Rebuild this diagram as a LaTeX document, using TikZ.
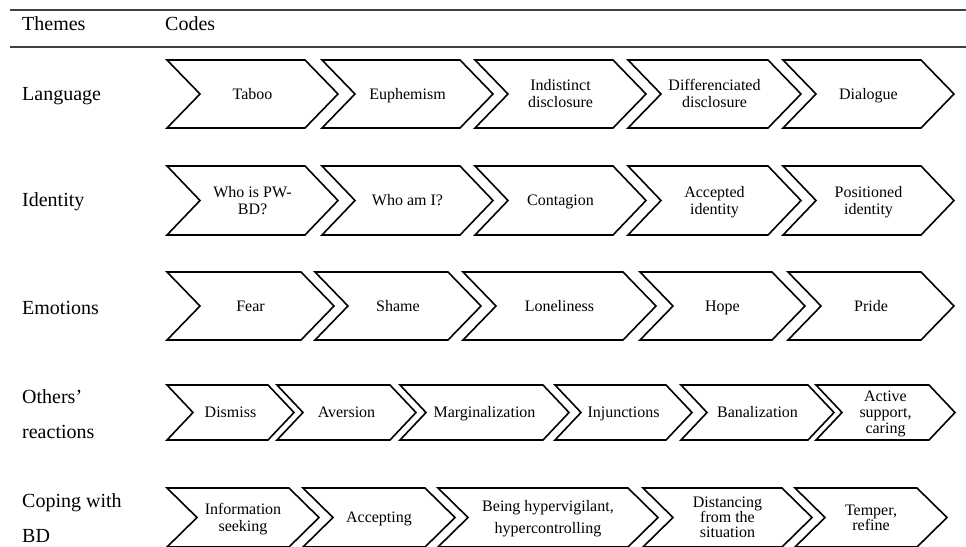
\documentclass[tikz,border=0pt]{standalone}
\usepackage{fontspec}
\setmainfont{Liberation Serif}
\tikzset{
  chevline/.style={draw=black, line width=1.6pt, line join=miter, fill=white},
  codetext/.style={font=\fontsize{16}{17}\selectfont, align=center, inner sep=0pt, text=black},
  themetext/.style={font=\fontsize{20}{35}\selectfont, align=left, anchor=west, inner sep=0pt, text=black},
  rulestyle/.style={draw=black!75, line width=1.1pt}
}
% #1 name, #2 left x, #3 right x (top corner), #4 top y, #5 bottom y, #6 depth, #7 text
\newcommand\mychev[7]{%
  \draw[chevline] (#2,#4) -- (#3,#4) -- ({#3+#6},{(#4+#5)/2}) -- (#3,#5) -- (#2,#5) -- ({#2+#6},{(#4+#5)/2}) -- cycle;
  \node[codetext] (#1) at ({(#2+#3+#6)/2},{(#4+#5)/2+2}) {\strut#7\strut};
}
\begin{document}
\begin{tikzpicture}[x=1pt,y=-1pt]
\useasboundingbox (0,0) rectangle (966,546);
\begin{scope}
\clip (0,0) rectangle (966,546);
% rules
\coordinate (r1a) at (10,10); \coordinate (r1b) at (966,10);
\coordinate (r2a) at (10,47); \coordinate (r2b) at (966,47);
\draw[rulestyle] (r1a) -- (r1b);
\draw[rulestyle] (r2a) -- (r2b);
% headers
\node[themetext] (hthemes) at (22,24) {Themes};
\node[themetext] (hcodes) at (165,24) {Codes};
% theme labels
\node[themetext] (tlang) at (22,96) {Language};
\node[themetext] (tid) at (22,202) {Identity};
\node[themetext] (temo) at (22,308) {Emotions};
\node[themetext] (toth) at (22,414) {Others’\\reactions};
\node[themetext] (tcop) at (22,518) {Coping with\\BD};
% row 1
\mychev{a1}{167}{305}{60}{128}{33}{Taboo}
\mychev{a2}{322}{460}{60}{128}{33}{Euphemism}
\mychev{a3}{475}{613}{60}{128}{33}{Indistinct\\disclosure}
\mychev{a4}{628}{768}{60}{128}{33}{Differenciated\\disclosure}
\mychev{a5}{783}{921}{60}{128}{33}{Dialogue}
% row 2
\mychev{b1}{167}{305}{166}{235}{33}{Who is PW-\\BD?}
\mychev{b2}{322}{460}{166}{235}{33}{Who am I?}
\mychev{b3}{475}{613}{166}{235}{33}{Contagion}
\mychev{b4}{628}{768}{166}{235}{33}{Accepted\\identity}
\mychev{b5}{783}{921}{166}{235}{33}{Positioned\\identity}
% row 3
\mychev{c1}{167}{301}{272}{340}{33}{Fear}
\mychev{c2}{315}{448}{272}{340}{33}{Shame}
\mychev{c3}{463}{623}{272}{340}{33}{Loneliness}
\mychev{c4}{640}{772}{272}{340}{33}{Hope}
\mychev{c5}{788}{921}{272}{340}{33}{Pride}
% row 4
\mychev{d1}{167}{268}{385}{440}{26}{Dismiss}
\mychev{d2}{277}{390}{385}{440}{26}{Aversion}
\mychev{d3}{400}{543}{385}{440}{26}{Marginalization}
\mychev{d4}{555}{666}{385}{440}{26}{Injunctions}
\mychev{d5}{681}{808}{385}{440}{26}{Banalization}
\mychev{d6}{816}{929}{385}{440}{26}{Active\\[-1pt]support,\\[-1pt]caring}
% row 5
\mychev{e1}{167}{289}{488}{547}{30}{Information\\seeking}
\mychev{e2}{303}{425}{488}{547}{30}{Accepting}
\mychev{e3}{438}{628}{488}{547}{30}{Being hypervigilant,\\[5pt]hypercontrolling}
\mychev{e4}{643}{782}{488}{547}{30}{Distancing\\[-2pt]from the\\[-2pt]situation}
\mychev{e5}{795}{917}{488}{547}{30}{Temper,\\[-2pt]refine}
\end{scope}
\end{tikzpicture}
\end{document}
